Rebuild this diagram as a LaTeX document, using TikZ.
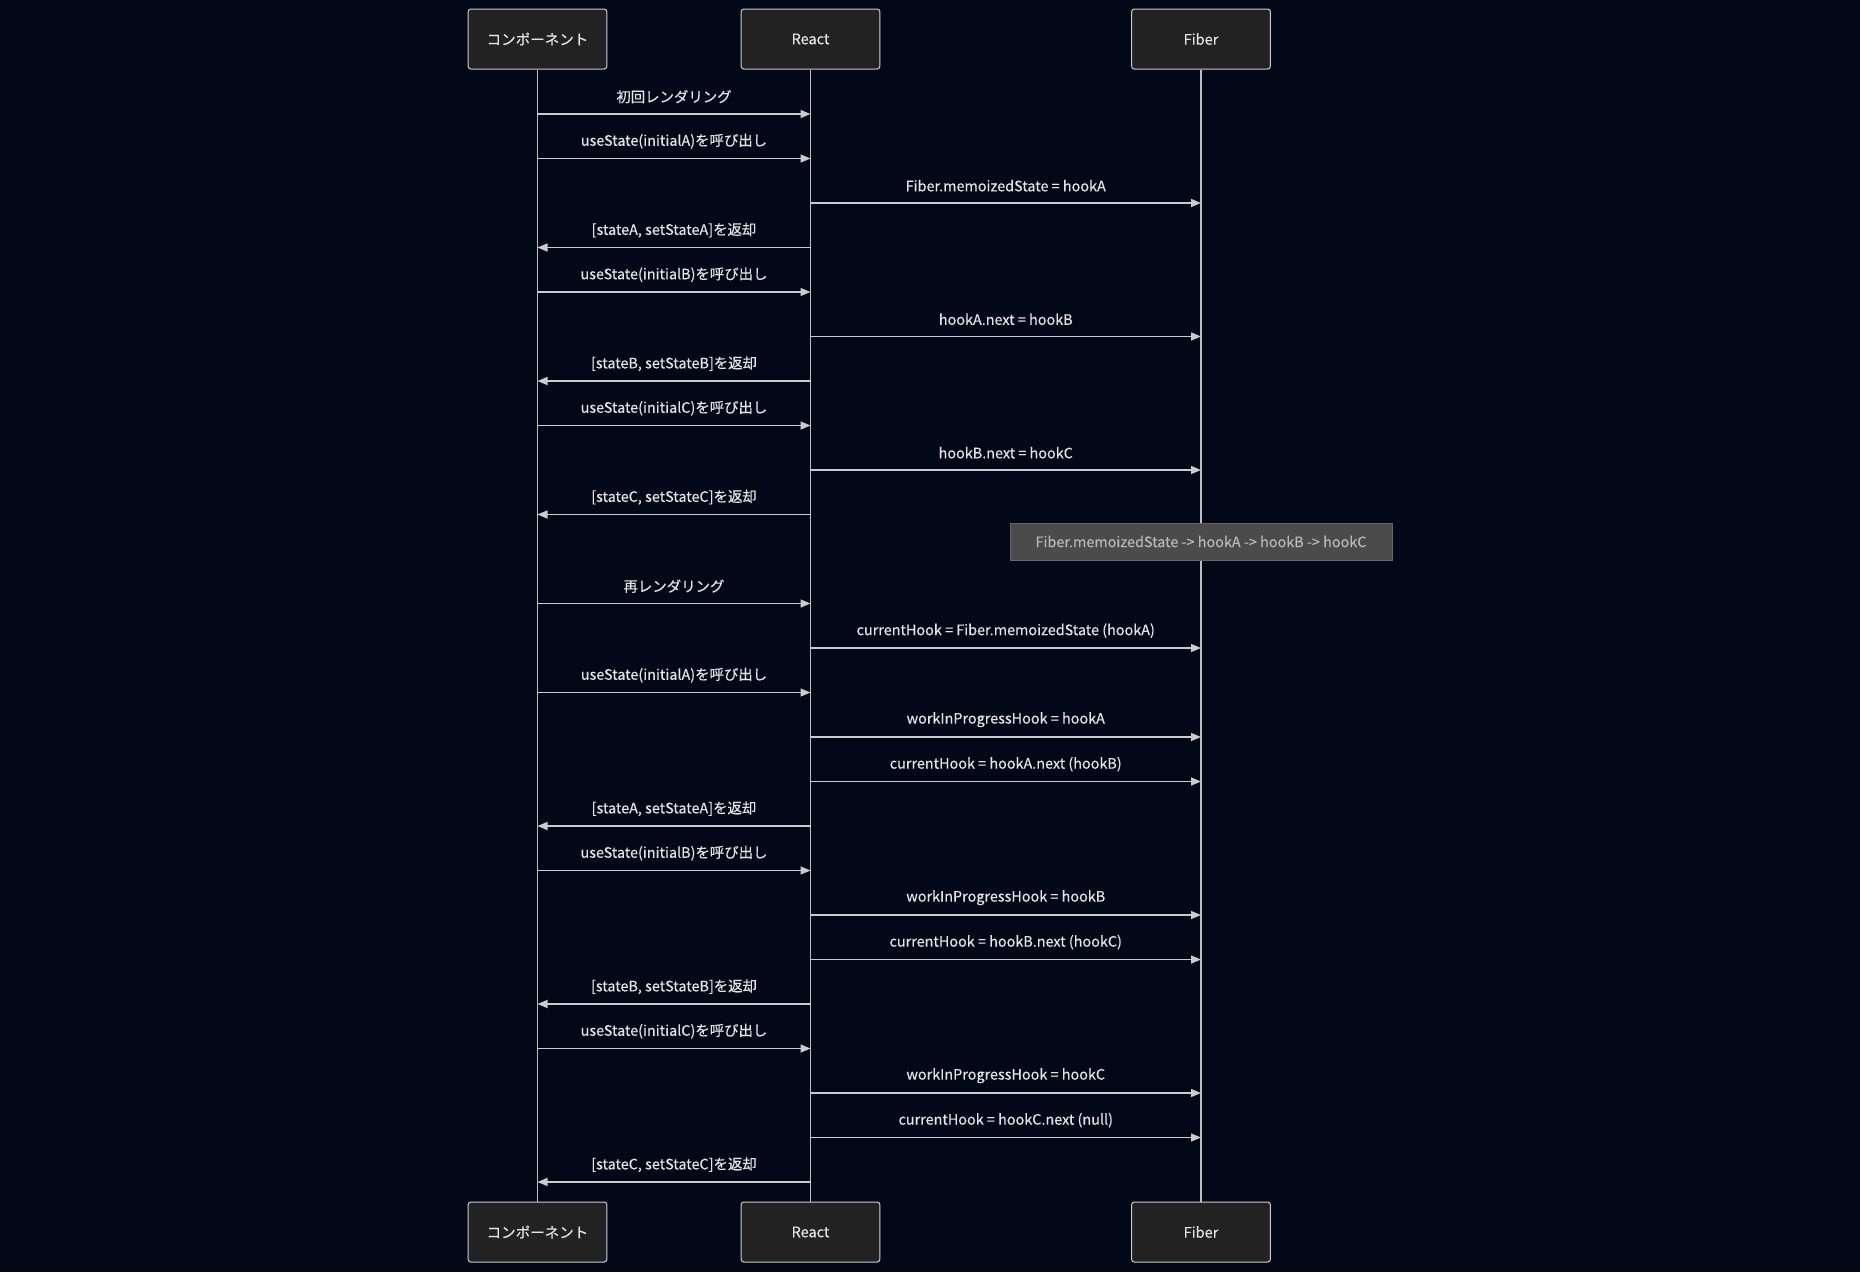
\documentclass[tikz,border=0pt]{standalone}
\usepackage{fontspec}
\setmainfont{Noto Sans CJK JP}[FakeBold=0.3]
\usetikzlibrary{arrows.meta}
\definecolor{bg}{HTML}{020817}
\definecolor{boxfill}{HTML}{222222}
\definecolor{boxline}{HTML}{CCCCCC}
\definecolor{lifecol}{HTML}{BEBEBE}
\definecolor{arrowcol}{HTML}{CCCCCC}
\definecolor{txt}{HTML}{E4E4E4}
\definecolor{notefill}{HTML}{4B4B4B}
\definecolor{noteline}{HTML}{666666}
\definecolor{notetxt}{HTML}{B8B8B8}
\begin{document}
\begin{tikzpicture}[x=0.75pt,y=-0.75pt,
  actor/.style={draw=boxline, fill=boxfill, rounded corners=2pt, line width=0.75pt,
    minimum width=104pt, minimum height=45pt, inner sep=0pt, text=txt,
    font=\fontsize{10.9}{13}\selectfont},
  lifeline/.style={draw=lifecol, line width=1.1pt},
  msgarrow/.style={draw=arrowcol, line width=1.1pt, -{Triangle[length=7.5pt,width=6pt]}},
  lbl/.style={text=txt, font=\fontsize{10.8}{13}\selectfont, inner sep=0pt},
  notebox/.style={draw=noteline, fill=notefill, line width=0.75pt, text=notetxt,
    minimum width=286.5pt, minimum height=27.75pt, inner sep=0pt,
    font=\fontsize{10.8}{13}\selectfont}]
\fill[bg] (0,0) rectangle (1860,1272);
\useasboundingbox (0,0) rectangle (1860,1272);
% actors
\node[actor] (ctop) at (537.5,39) {コンポーネント};
\node[actor] (rtop) at (810.5,39) {React};
\node[actor] (ftop) at (1201,39) {Fiber};
\node[actor] (cbot) at (537.5,1232) {コンポーネント};
\node[actor] (rbot) at (810.5,1232) {React};
\node[actor] (fbot) at (1201,1232) {Fiber};
% lifelines
\draw[lifeline] (ctop) -- (cbot);
\draw[lifeline] (rtop) -- (rbot);
\draw[lifeline] (ftop) -- (fbot);
% note
\node[notebox] (note) at (1201,541.5) {Fiber.memoizedState -> hookA -> hookB -> hookC};
% messages
\foreach \yy/\a/\b/\t [count=\i] in {
  114/ctop/rtop/{初回レンダリング},
  158.5/ctop/rtop/{useState(initialA)を呼び出し},
  203/rtop/ftop/{Fiber.memoizedState = hookA},
  247.5/rtop/ctop/{[stateA, setStateA]を返却},
  292/ctop/rtop/{useState(initialB)を呼び出し},
  336.5/rtop/ftop/{hookA.next = hookB},
  381/rtop/ctop/{[stateB, setStateB]を返却},
  425.5/ctop/rtop/{useState(initialC)を呼び出し},
  470/rtop/ftop/{hookB.next = hookC},
  514.5/rtop/ctop/{[stateC, setStateC]を返却},
  603.5/ctop/rtop/{再レンダリング},
  648/rtop/ftop/{currentHook = Fiber.memoizedState (hookA)},
  692.5/ctop/rtop/{useState(initialA)を呼び出し},
  737/rtop/ftop/{workInProgressHook = hookA},
  781.5/rtop/ftop/{currentHook = hookA.next (hookB)},
  826/rtop/ctop/{[stateA, setStateA]を返却},
  870.5/ctop/rtop/{useState(initialB)を呼び出し},
  915/rtop/ftop/{workInProgressHook = hookB},
  959.5/rtop/ftop/{currentHook = hookB.next (hookC)},
  1004/rtop/ctop/{[stateB, setStateB]を返却},
  1048.5/ctop/rtop/{useState(initialC)を呼び出し},
  1093/rtop/ftop/{workInProgressHook = hookC},
  1137.5/rtop/ftop/{currentHook = hookC.next (null)},
  1182/rtop/ctop/{[stateC, setStateC]を返却}} {
  \coordinate (m\i s) at (\a |- 0,\yy);
  \coordinate (m\i e) at (\b |- 0,\yy);
  \draw[msgarrow] (m\i s) -- (m\i e) node[lbl, midway, yshift=13pt] {\t};
}
\end{tikzpicture}
\end{document}
